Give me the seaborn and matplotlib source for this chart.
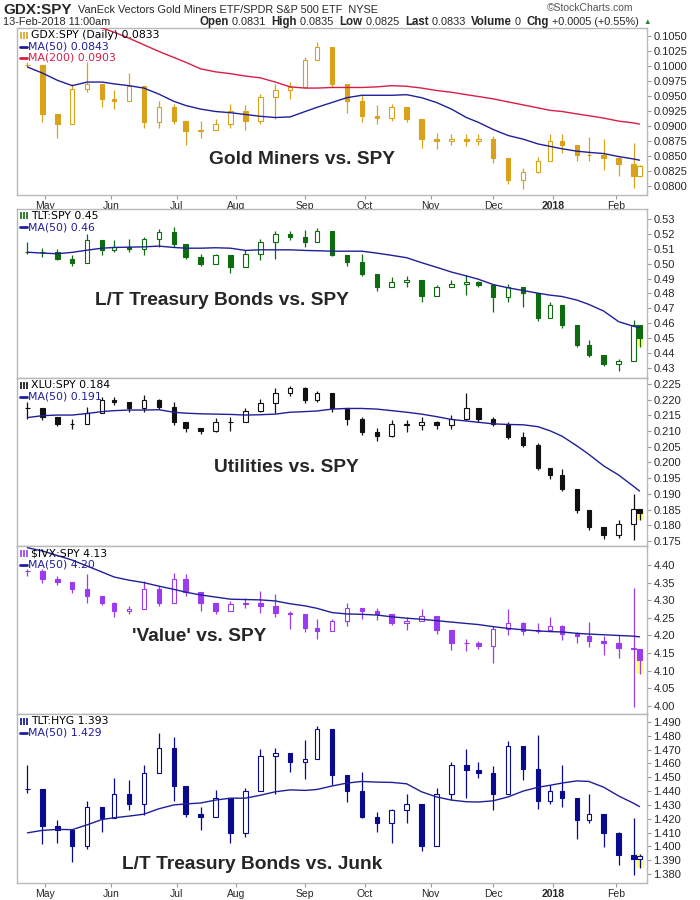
import pandas as pd
import numpy as np
import matplotlib
matplotlib.use("Agg")
import matplotlib.pyplot as plt
import seaborn as sns

# weekly readings (Fri close, week high, week low) + moving averages
holidays = ["2017-05-29", "2017-07-04", "2017-09-04", "2017-11-23",
            "2017-12-25", "2018-01-01", "2018-01-15"]
month_starts = ["2017-05-01", "2017-06-01", "2017-07-01", "2017-08-01", "2017-09-01",
                "2017-10-01", "2017-11-01", "2017-12-01", "2018-01-01", "2018-02-01"]
month_labels = ["May", "Jun", "Jul", "Aug", "Sep", "Oct", "Nov", "Dec", "2018", "Feb"]

gdx_close = [0.1001, 0.0920, 0.0903, 0.0962, 0.0970, 0.0945, 0.0942, 0.0967, 0.0906, 0.0931,
             0.0908, 0.0892, 0.0894, 0.0903, 0.0925, 0.0908, 0.0948, 0.0959, 0.0965, 0.1010,
             0.1032, 0.0970, 0.0942, 0.0917, 0.0914, 0.0931, 0.0911, 0.0878, 0.0875, 0.0878,
             0.0875, 0.0878, 0.0847, 0.0810, 0.0824, 0.0841, 0.0875, 0.0869, 0.0852, 0.0852,
             0.0847, 0.0836, 0.0816, 0.0833]
gdx_high = [0.1007, 0.0987, 0.0920, 0.0970, 0.1007, 0.0970, 0.0959, 0.0988, 0.0967, 0.0942,
            0.0937, 0.0904, 0.0908, 0.0911, 0.0937, 0.0934, 0.0953, 0.0970, 0.0973, 0.1015,
            0.1040, 0.1010, 0.0962, 0.0951, 0.0934, 0.0937, 0.0922, 0.0903, 0.0889, 0.0886,
            0.0886, 0.0886, 0.0883, 0.0847, 0.0830, 0.0849, 0.0886, 0.0887, 0.0866, 0.0881,
            0.0878, 0.0849, 0.0872, 0.0835]
gdx_low = [0.0998, 0.0906, 0.0880, 0.0917, 0.0956, 0.0931, 0.0928, 0.0942, 0.0896, 0.0896,
           0.0903, 0.0868, 0.0880, 0.0893, 0.0897, 0.0894, 0.0903, 0.0911, 0.0945, 0.0979,
           0.1010, 0.0965, 0.0922, 0.0906, 0.0903, 0.0908, 0.0906, 0.0863, 0.0862, 0.0869,
           0.0866, 0.0868, 0.0838, 0.0804, 0.0795, 0.0821, 0.0847, 0.0855, 0.0841, 0.0841,
           0.0827, 0.0816, 0.0796, 0.0825]
gdx_ma50 = [0.0998, 0.0988, 0.0976, 0.0967, 0.0973, 0.0973, 0.0970, 0.0967, 0.0963, 0.0953,
            0.0941, 0.0934, 0.0928, 0.0924, 0.0922, 0.0919, 0.0916, 0.0914, 0.0915, 0.0924,
            0.0931, 0.0939, 0.0947, 0.0951, 0.0951, 0.0951, 0.0952, 0.0947, 0.0939, 0.0928,
            0.0914, 0.0906, 0.0894, 0.0884, 0.0878, 0.0870, 0.0866, 0.0862, 0.0858, 0.0856,
            0.0854, 0.0849, 0.0845, 0.0843]
gdx_ma200 = [np.nan, np.nan, np.nan, np.nan, 0.1072, 0.1063, 0.1056, 0.1046, 0.1035, 0.1024,
             0.1014, 0.1006, 0.0995, 0.0990, 0.0987, 0.0983, 0.0980, 0.0973, 0.0965, 0.0963,
             0.0963, 0.0964, 0.0964, 0.0964, 0.0965, 0.0967, 0.0966, 0.0963, 0.0959, 0.0956,
             0.0952, 0.0949, 0.0945, 0.0940, 0.0935, 0.0930, 0.0926, 0.0924, 0.0920, 0.0917,
             0.0913, 0.0908, 0.0905, 0.0903]

tlt_close = [0.5078, 0.5078, 0.5033, 0.5007, 0.5156, 0.5089, 0.5111, 0.5100, 0.5167, 0.5211,
             0.5133, 0.5044, 0.5000, 0.5056, 0.4978, 0.5067, 0.5144, 0.5200, 0.5178, 0.5144,
             0.5222, 0.5056, 0.5011, 0.4933, 0.4844, 0.4878, 0.4889, 0.4784, 0.4844, 0.4867,
             0.4878, 0.4856, 0.4778, 0.4844, 0.4800, 0.4633, 0.4722, 0.4589, 0.4456, 0.4389,
             0.4327, 0.4344, 0.4589, 0.4500]
tlt_high = [0.5144, 0.5104, 0.5100, 0.5056, 0.5200, 0.5133, 0.5156, 0.5167, 0.5178, 0.5233,
            0.5244, 0.5133, 0.5067, 0.5067, 0.5000, 0.5089, 0.5167, 0.5222, 0.5222, 0.5229,
            0.5238, 0.5122, 0.5056, 0.5067, 0.4933, 0.4911, 0.4918, 0.4844, 0.4856, 0.4889,
            0.4927, 0.4882, 0.4856, 0.4867, 0.4822, 0.4789, 0.4744, 0.4700, 0.4544, 0.4489,
            0.4367, 0.4361, 0.4622, 0.4544]
tlt_low = [0.5067, 0.5044, 0.5022, 0.4984, 0.5022, 0.5056, 0.5078, 0.5078, 0.5056, 0.5111,
           0.5111, 0.5033, 0.4984, 0.5007, 0.4940, 0.4978, 0.5022, 0.5033, 0.5156, 0.5111,
           0.5167, 0.5051, 0.4984, 0.4918, 0.4816, 0.4844, 0.4844, 0.4744, 0.4793, 0.4844,
           0.4793, 0.4844, 0.4678, 0.4744, 0.4711, 0.4616, 0.4644, 0.4567, 0.4444, 0.4371,
           0.4311, 0.4278, 0.4422, 0.4444]
tlt_ma50 = [0.5077, 0.5071, 0.5067, 0.5076, 0.5091, 0.5104, 0.5109, 0.5111, 0.5113, 0.5118,
            0.5109, 0.5104, 0.5104, 0.5107, 0.5104, 0.5089, 0.5093, 0.5093, 0.5093, 0.5089,
            0.5087, 0.5084, 0.5084, 0.5084, 0.5071, 0.5056, 0.5040, 0.5007, 0.4976, 0.4944,
            0.4918, 0.4896, 0.4860, 0.4838, 0.4820, 0.4802, 0.4789, 0.4780, 0.4756, 0.4727,
            0.4682, 0.4611, 0.4580, 0.4571]

xlu_close = [0.2172, 0.2146, 0.2124, 0.2124, 0.2156, 0.2199, 0.2194, 0.2172, 0.2199, 0.2178,
             0.2130, 0.2109, 0.2100, 0.2130, 0.2130, 0.2164, 0.2188, 0.2220, 0.2236, 0.2199,
             0.2220, 0.2172, 0.2140, 0.2098, 0.2084, 0.2124, 0.2119, 0.2130, 0.2119, 0.2140,
             0.2172, 0.2140, 0.2124, 0.2082, 0.2055, 0.1981, 0.1960, 0.1917, 0.1848, 0.1795,
             0.1768, 0.1805, 0.1853, 0.1840]
xlu_high = [0.2194, 0.2164, 0.2146, 0.2140, 0.2176, 0.2210, 0.2210, 0.2174, 0.2215, 0.2202,
            0.2194, 0.2130, 0.2102, 0.2143, 0.2146, 0.2174, 0.2201, 0.2236, 0.2245, 0.2241,
            0.2229, 0.2215, 0.2172, 0.2146, 0.2109, 0.2135, 0.2135, 0.2146, 0.2132, 0.2151,
            0.2220, 0.2160, 0.2146, 0.2130, 0.2098, 0.2061, 0.1970, 0.1978, 0.1890, 0.1821,
            0.1795, 0.1816, 0.1901, 0.1848]
xlu_low = [0.2140, 0.2135, 0.2117, 0.2106, 0.2138, 0.2172, 0.2183, 0.2160, 0.2162, 0.2170,
           0.2119, 0.2096, 0.2090, 0.2096, 0.2100, 0.2130, 0.2160, 0.2156, 0.2213, 0.2188,
           0.2191, 0.2160, 0.2119, 0.2087, 0.2069, 0.2080, 0.2096, 0.2103, 0.2106, 0.2106,
           0.2135, 0.2128, 0.2117, 0.2074, 0.2050, 0.1976, 0.1947, 0.1909, 0.1840, 0.1784,
           0.1757, 0.1760, 0.1752, 0.1816]
xlu_ma50 = [0.2143, 0.2149, 0.2151, 0.2151, 0.2156, 0.2162, 0.2165, 0.2167, 0.2167, 0.2168,
            0.2160, 0.2157, 0.2155, 0.2154, 0.2153, 0.2151, 0.2152, 0.2154, 0.2160, 0.2162,
            0.2164, 0.2170, 0.2172, 0.2172, 0.2170, 0.2165, 0.2160, 0.2154, 0.2146, 0.2137,
            0.2132, 0.2128, 0.2123, 0.2121, 0.2120, 0.2114, 0.2101, 0.2084, 0.2053, 0.2026,
            0.1989, 0.1960, 0.1924, 0.1909]

ivx_close = [4.383, 4.359, 4.352, 4.331, 4.312, 4.293, 4.270, 4.274, 4.331, 4.293,
             4.359, 4.322, 4.293, 4.270, 4.288, 4.293, 4.284, 4.265, 4.260, 4.222,
             4.213, 4.241, 4.279, 4.270, 4.260, 4.236, 4.240, 4.255, 4.216, 4.180,
             4.180, 4.170, 4.217, 4.236, 4.213, 4.216, 4.227, 4.203, 4.199, 4.184,
             4.180, 4.165, 4.161, 4.130]
ivx_high = [4.390, 4.388, 4.369, 4.352, 4.375, 4.312, 4.295, 4.284, 4.355, 4.340,
            4.376, 4.374, 4.323, 4.275, 4.298, 4.307, 4.326, 4.317, 4.270, 4.251,
            4.248, 4.248, 4.291, 4.279, 4.278, 4.260, 4.252, 4.276, 4.229, 4.208,
            4.189, 4.184, 4.227, 4.276, 4.238, 4.236, 4.251, 4.229, 4.210, 4.238,
            4.199, 4.200, 4.336, 4.142]
ivx_low = [4.369, 4.348, 4.342, 4.320, 4.291, 4.286, 4.253, 4.260, 4.288, 4.284,
           4.295, 4.312, 4.270, 4.260, 4.270, 4.279, 4.265, 4.251, 4.217, 4.210,
           4.191, 4.216, 4.228, 4.246, 4.244, 4.229, 4.216, 4.244, 4.203, 4.159,
           4.156, 4.161, 4.123, 4.200, 4.200, 4.208, 4.214, 4.187, 4.178, 4.168,
           4.144, 4.137, 3.998, 4.090]
ivx_ma50 = [4.449, 4.440, 4.427, 4.414, 4.397, 4.380, 4.366, 4.357, 4.350, 4.340,
            4.331, 4.323, 4.315, 4.309, 4.303, 4.302, 4.301, 4.298, 4.290, 4.284,
            4.277, 4.265, 4.261, 4.260, 4.258, 4.253, 4.249, 4.246, 4.242, 4.238,
            4.234, 4.231, 4.225, 4.220, 4.216, 4.213, 4.211, 4.210, 4.206, 4.204,
            4.202, 4.200, 4.198, 4.196]

hyg_close = [1.4412, 1.4144, 1.4121, 1.4005, 1.4284, 1.4202, 1.4377, 1.4307, 1.4528, 1.4714,
             1.4435, 1.4237, 1.4214, 1.4353, 1.4098, 1.4400, 1.4656, 1.4679, 1.4609, 1.4633,
             1.4853, 1.4516, 1.4400, 1.4214, 1.4167, 1.4260, 1.4307, 1.4005, 1.4377, 1.4586,
             1.4551, 1.4528, 1.4377, 1.4726, 1.4563, 1.4330, 1.4400, 1.4353, 1.4191, 1.4237,
             1.4098, 1.3935, 1.3912, 1.3930]
hyg_high = [1.4591, 1.4295, 1.4191, 1.4070, 1.4326, 1.4242, 1.4493, 1.4481, 1.4586, 1.4819,
            1.4795, 1.4400, 1.4284, 1.4405, 1.4191, 1.4423, 1.4702, 1.4714, 1.4667, 1.4772,
            1.4870, 1.4679, 1.4493, 1.4535, 1.4249, 1.4272, 1.4377, 1.4167, 1.4423, 1.4609,
            1.4702, 1.4609, 1.4579, 1.4760, 1.4702, 1.4807, 1.4447, 1.4591, 1.4295, 1.4377,
            1.4167, 1.4107, 1.4202, 1.3947]
hyg_low = [1.4388, 1.4016, 1.4028, 1.3884, 1.3981, 1.4102, 1.4237, 1.4260, 1.4226, 1.4633,
           1.4330, 1.4214, 1.4116, 1.4237, 1.4023, 1.4070, 1.4447, 1.4377, 1.4535, 1.4488,
           1.4633, 1.4442, 1.4319, 1.4209, 1.4107, 1.4028, 1.4167, 1.3963, 1.4074, 1.4335,
           1.4353, 1.4493, 1.4260, 1.4447, 1.4481, 1.4272, 1.4307, 1.4284, 1.4056, 1.4167,
           1.3993, 1.3865, 1.3795, 1.3842]
hyg_ma50 = [1.4098, 1.4116, 1.4123, 1.4121, 1.4156, 1.4195, 1.4207, 1.4219, 1.4233, 1.4272,
            1.4300, 1.4307, 1.4314, 1.4335, 1.4349, 1.4349, 1.4370, 1.4395, 1.4409, 1.4405,
            1.4412, 1.4437, 1.4458, 1.4470, 1.4465, 1.4463, 1.4453, 1.4395, 1.4358, 1.4335,
            1.4323, 1.4321, 1.4330, 1.4358, 1.4400, 1.4428, 1.4442, 1.4458, 1.4474, 1.4470,
            1.4428, 1.4365, 1.4312, 1.4288]


sns.set_theme(style="white")
plt.rcParams['font.family'] = ['Liberation Sans', 'DejaVu Sans']

# trading day axis
days = pd.bdate_range("2017-04-19", "2018-02-13")
days = days[~days.isin(pd.to_datetime(holidays))]
weeks = pd.DatetimeIndex(list(pd.date_range("2017-04-21", "2018-02-09", freq="W-FRI"))
                         + [pd.Timestamp("2018-02-13")])
xpos = days.searchsorted(weeks, side="right") - 1
mpos = days.searchsorted(pd.to_datetime(month_starts))

MA_COLOR = "#1f1f9a"
panels = [
    dict(c=gdx_close, h=gdx_high, l=gdx_low, ma=gdx_ma50, ma2=gdx_ma200, color="#d9a21b",
         ylim=(0.0785, 0.1063), ticks=np.arange(0.0800, 0.10501, 0.0025), fmt="%.4f",
         leg=["GDX:SPY (Daily) 0.0833", "MA(50) 0.0843", "MA(200) 0.0903"],
         title="Gold Miners vs. SPY", tpos=(0.452, 0.21)),
    dict(c=tlt_close, h=tlt_high, l=tlt_low, ma=tlt_ma50, ma2=None, color="#0f6b0f",
         ylim=(0.4233, 0.5367), ticks=np.arange(0.43, 0.5301, 0.01), fmt="%.2f",
         leg=["TLT:SPY 0.45", "MA(50) 0.46"],
         title="L/T Treasury Bonds vs. SPY", tpos=(0.325, 0.46)),
    dict(c=xlu_close, h=xlu_high, l=xlu_low, ma=xlu_ma50, ma2=None, color="#111111",
         ylim=(0.1734, 0.2269), ticks=np.arange(0.175, 0.22501, 0.005), fmt="%.3f",
         leg=["XLU:SPY 0.184", "MA(50) 0.191"],
         title="Utilities vs. SPY", tpos=(0.428, 0.47)),
    dict(c=ivx_close, h=ivx_high, l=ivx_low, ma=ivx_ma50, ma2=None, color="#9b3bf0",
         ylim=(3.977, 4.454), ticks=np.arange(4.00, 4.401, 0.05), fmt="%.2f",
         leg=["$IVX:SPY 4.13", "MA(50) 4.20"],
         title="'Value' vs. SPY", tpos=(0.289, 0.464)),
    dict(c=hyg_close, h=hyg_high, l=hyg_low, ma=hyg_ma50, ma2=None, color="#0a0a8c",
         ylim=(1.3735, 1.4958), ticks=np.arange(1.380, 1.4901, 0.01), fmt="%.3f",
         leg=["TLT:HYG 1.393", "MA(50) 1.429"],
         title="L/T Treasury Bonds vs. Junk", tpos=(0.373, 0.107)),
]
# axes boxes in pixels (top, bottom)
boxes = [(28, 195), (209, 378), (378, 546), (546, 714), (714, 883)]

fig = plt.figure(figsize=(7, 9), dpi=100)
W, H = 700.0, 900.0
left, right = 17, 647

for i, (p, (top, bot)) in enumerate(zip(panels, boxes)):
    ax = fig.add_axes([left / W, 1 - bot / H, (right - left) / W, (bot - top) / H])
    c = np.array(p["c"]); hi = np.array(p["h"]); lo = np.array(p["l"])
    o = np.concatenate([[c[0]], c[:-1]])
    up = c >= o
    col = p["color"]

    # highlight last bar
    ax.bar(xpos[-1], hi[-1] - lo[-1] + 0.004 * (p["ylim"][1] - p["ylim"][0]),
           bottom=lo[-1], width=3.0, color="#ffff80", zorder=1)
    ax.vlines(xpos, np.minimum(lo, np.minimum(o, c)), np.maximum(hi, np.maximum(o, c)),
              color=col, lw=0.9, zorder=2)
    ax.bar(xpos, np.abs(c - o), bottom=np.minimum(o, c), width=1.5,
           facecolor=np.where(up, "white", col).tolist(), edgecolor=col, lw=0.8, zorder=3)

    sns.lineplot(x=xpos, y=p["ma"], ax=ax, color=MA_COLOR, lw=1.0, legend=False, zorder=4)
    if p["ma2"] is not None:
        sns.lineplot(x=xpos, y=p["ma2"], ax=ax, color="#d81e45", lw=1.0, legend=False, zorder=4)

    ax.set_xlim(-1.5, 209.5)
    ax.set_ylim(*p["ylim"])
    ax.set_xlabel("")
    ax.set_ylabel("")
    ax.yaxis.tick_right()
    ax.set_yticks(p["ticks"])
    ax.set_yticklabels([p["fmt"] % t for t in p["ticks"]])
    ax.tick_params(axis="y", direction="out", length=3, width=0.8, color="#999999",
                   labelsize=8, pad=1.5, right=True, left=False)
    ax.set_xticks(mpos)
    if i in (0, 4):
        ax.set_xticklabels(month_labels)
        ax.tick_params(axis="x", direction="out", length=3, width=0.8, color="#999999",
                       labelsize=7.5, pad=1.5, bottom=True)
        for lab in ax.get_xticklabels():
            if lab.get_text() == "2018":
                lab.set_fontweight("bold")
    else:
        ax.set_xticklabels([])
        ax.tick_params(axis="x", length=0)
    for s in ax.spines.values():
        s.set_color("#b8b8b8")
        s.set_linewidth(1.0)

    # legend block
    ph = bot - top
    for k, txt in enumerate(p["leg"]):
        yy = 1 - (7 + 11.5 * k) / ph
        if k == 0:
            ax.vlines([0.006, 0.011, 0.016], yy - 3.5 / ph, yy + 3.5 / ph, color=col, lw=1.2,
                      transform=ax.transAxes, zorder=6)
            ax.text(0.023, yy, txt, transform=ax.transAxes, fontsize=7.8, va="center",
                    color="black", family=["DejaVu Sans"], zorder=6)
        else:
            lc = MA_COLOR if k == 1 else "#d81e45"
            ax.plot([0.004, 0.016], [yy, yy], color=lc, lw=2, transform=ax.transAxes, zorder=6)
            ax.text(0.017, yy, txt, transform=ax.transAxes, fontsize=7.8, va="center",
                    color=lc, family=["DejaVu Sans"], zorder=6)

    ax.text(p["tpos"][0], p["tpos"][1], p["title"], transform=ax.transAxes,
            fontsize=13.8, fontweight="bold", ha="center", va="center",
            family=["Liberation Sans", "DejaVu Sans"], zorder=7)

# header
def ftext(x, y, s, **kw):
    fig.text(x / W, 1 - y / H, s, va="center", **kw)

ftext(3, 10, "GDX:SPY", fontsize=11, fontweight="bold")
ftext(78, 10, "VanEck Vectors Gold Miners ETF/SPDR S&P 500 ETF  NYSE", fontsize=7.8)
ftext(547, 8, "\u00a9StockCharts.com", fontsize=7.5, color="#555555")
ftext(3, 22, "13-Feb-2018 11:00am", fontsize=7.8)
row = [("Open", True), (" 0.0831  ", False), ("High", True), (" 0.0835  ", False),
       ("Low", True), (" 0.0825  ", False), ("Last", True), (" 0.0833  ", False),
       ("Volume", True), (" 0  ", False), ("Chg", True), (" +0.0005 (+0.55%)", False)]
fig.canvas.draw()
rend = fig.canvas.get_renderer()
xcur = 200.0
for s, bold in row:
    t = fig.text(xcur / W, 1 - 22 / H, s, va="center", fontsize=8.3 if bold else 7.8,
                 fontweight="bold" if bold else "normal")
    bb = t.get_window_extent(renderer=rend)
    xcur += bb.width
fig.text((xcur + 4) / W, 1 - 22 / H, "\u25b2", va="center", fontsize=5.5, color="#2e7d32")

fig.savefig("out.png", dpi=100, facecolor="white")
